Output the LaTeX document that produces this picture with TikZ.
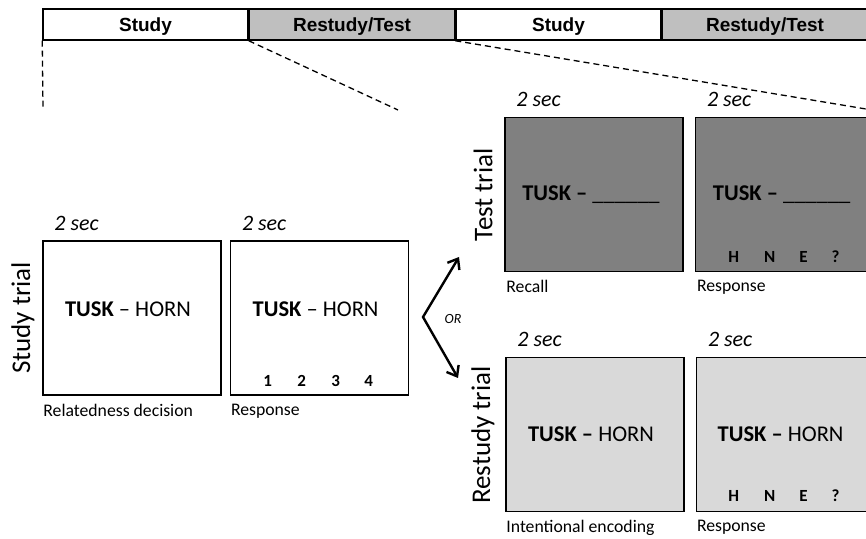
\documentclass[tikz,border=0pt]{standalone}
\usepackage{fontspec}
\setmainfont{Carlito}
\newfontfamily\barfont{Liberation Sans}
\usetikzlibrary{arrows.meta,positioning,calc}
\definecolor{bargray}{gray}{0.75}
\definecolor{testgray}{gray}{0.5}
\definecolor{restudygray}{gray}{0.85}
\tikzset{
  phasebox/.style = {draw, line width=1.5pt, minimum width=205pt, minimum height=31pt, inner sep=0pt,
                     text height=13.6pt, text depth=0pt, font=\barfont\bfseries\fontsize{19}{22}\selectfont},
  screen/.style   = {draw, line width=1.6pt, minimum width=178pt, minimum height=154pt, inner sep=0pt},
  word/.style     = {inner sep=0pt, font=\fontsize{22.5}{25}\selectfont},
  secs/.style     = {inner sep=0pt, font=\itshape\fontsize{22}{24}\selectfont},
  caption/.style  = {inner sep=0pt, font=\fontsize{17.7}{20}\selectfont},
  trial/.style    = {inner sep=0pt, rotate=90, font=\fontsize{27}{30}\selectfont},
  keylabel/.style = {inner sep=0pt, font=\bfseries\fontsize{17}{20}\selectfont},
  zoomline/.style = {dashed, dash pattern=on 6pt off 4pt, line width=1.3pt},
  choice/.style   = {<->, >={Straight Barb[length=9pt,width=14pt]}, line width=2.4pt, line join=miter}
}

\begin{document}
\begin{tikzpicture}[x=1pt,y=1pt]
  \clip (0,0) rectangle (866,538);
  \node[phasebox] (bar1) at (145.5,513.5) {Study};
  \node[phasebox, fill=bargray, right=0pt of bar1] (bar2) {Restudy/Test};
  \node[phasebox, right=0pt of bar2] (bar3) {Study};
  \node[phasebox, fill=bargray, right=0pt of bar3] (bar4) {Restudy/Test};

  \coordinate (z1) at (43,428);
  \coordinate (z2) at (398,428);
  \coordinate (z3) at (866,429);
  \draw[zoomline] (bar1.south west) -- (z1);
  \draw[zoomline] (bar2.south west) -- (z2);
  \draw[zoomline] (bar3.south west) -- (z3);

  % study trial
  \node[screen] (rel) at (132,220) {};
  \node[screen, right=8pt of rel] (resp) {};
  \node[word] (relword) at ($(rel.center)+(-4,9)$) {\textbf{TUSK} – HORN};
  \node[word] (respword) at ($(resp.center)+(-4,9)$) {\textbf{TUSK} – HORN};
  \foreach \k/\dx in {1/-52,2/-18,3/16,4/49}
    \node[keylabel] (num\k) at ($(resp.center)+(\dx,-63)$) {\k};
  \node[secs, above right=9pt and 12pt of rel.north west] (sec1) {2 sec};
  \node[secs, above right=9pt and 12pt of resp.north west] (sec2) {2 sec};
  \node[caption, below right=8pt and 1pt of rel.south west] (cap1) {Relatedness decision};
  \node[caption, below right=8pt and 1pt of resp.south west] (cap2) {Response};
  \node[trial] (studytrial) at (23,220) {Study trial};

  % test trial
  \node[screen, fill=testgray] (recall) at (594,343.5) {};
  \node[screen, fill=testgray, right=11pt of recall] (testresp) {};
  \node[word] (recallword) at ($(recall.center)+(-3,0)$) {\textbf{TUSK –} \_\_\_\_\_\_};
  \node[word] (testrespword) at ($(testresp.center)+(-3,0)$) {\textbf{TUSK –} \_\_\_\_\_\_};
  \foreach \k/\dx [count=\i] in {H/-51,N/-15,E/19,?/51}
    \node[keylabel] (tkey\i) at ($(testresp.center)+(\dx,-62)$) {\k};
  \node[secs, above right=10pt and 12pt of recall.north west] (sec3) {2 sec};
  \node[secs, above right=10pt and 12pt of testresp.north west] (sec4) {2 sec};
  \node[caption, below right=8pt and 2pt of recall.south west] (cap3) {Recall};
  \node[caption, below right=8pt and 2pt of testresp.south west] (cap4) {Response};
  \node[trial] (testtrial) at (483,343) {Test trial};

  % restudy trial
  \node[screen, fill=restudygray] (encode) at (595,103.5) {};
  \node[screen, fill=restudygray, right=11pt of encode] (restudyresp) {};
  \node[word] (encodeword) at ($(encode.center)+(-4,0)$) {\textbf{TUSK –} HORN};
  \node[word] (restudyrespword) at ($(restudyresp.center)+(-5,0)$) {\textbf{TUSK –} HORN};
  \foreach \k/\dx [count=\i] in {H/-52,N/-16,E/18,?/50}
    \node[keylabel] (rkey\i) at ($(restudyresp.center)+(\dx,-61)$) {\k};
  \node[secs, above right=10pt and 12pt of encode.north west] (sec5) {2 sec};
  \node[secs, above right=10pt and 12pt of restudyresp.north west] (sec6) {2 sec};
  \node[caption, below right=8pt and 1pt of encode.south west] (cap5) {Intentional encoding};
  \node[caption, below right=8pt and 1pt of restudyresp.south west] (cap6) {Response};
  \node[trial] (restudytrial) at (483,103) {Restudy trial};

  \coordinate (fork) at (423,221);
  \coordinate (totest) at (459,281);
  \coordinate (torestudy) at (458,160);
  \draw[choice] (totest) -- (fork) -- (torestudy);
  \node[inner sep=0pt, font=\itshape\fontsize{14}{16}\selectfont] (or) at (453,219) {OR};
\end{tikzpicture}
\end{document}
